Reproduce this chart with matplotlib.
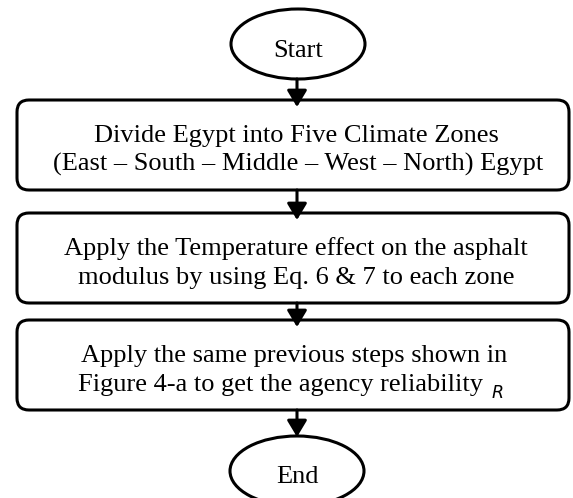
import matplotlib
matplotlib.use("Agg")
import matplotlib.pyplot as plt
from matplotlib.patches import FancyBboxPatch, Ellipse, FancyArrowPatch

W, H = 573, 498
fig = plt.figure(figsize=(W / 100, H / 100), dpi=100)
ax = fig.add_axes([0, 0, 1, 1])
ax.set_xlim(0, W)
ax.set_ylim(H, 0)
ax.axis("off")

terminal_labels = ["Start", "End"]
step_lines = [
    ["Divide Egypt into Five Climate Zones", "(East \u2013 South \u2013 Middle \u2013 West \u2013 North) Egypt"],
    ["Apply the Temperature effect on the asphalt", "modulus by using Eq. 6 & 7 to each zone"],
    ["Apply the same previous steps shown in", "Figure 4-a to get the agency reliability"],
]
symbol_label = "R"

serif = "Liberation Serif"
fs = 19
lw = 2.2

# layout (pixel coordinates)
cx = 297
box_x0, box_x1 = 17, 569
boxes_y = [(100, 190), (213, 303), (320, 410)]
line_off = (41.5, 71.0)
line_cx = [(296, 298), (296, 296), (294, 280)]
ell_w, ell_h = 134, 70
start_c = (298, 44)
end_c = (297, 471)

# terminals
for (ex, ey), lab, tb in zip([start_c, end_c], terminal_labels, [56.5, 483]):
    ax.add_patch(Ellipse((ex, ey), ell_w, ell_h, fill=False, ec="black", lw=lw))
    ax.text(ex, tb, lab, ha="center", va="baseline", family=serif, fontsize=fs)

# process boxes
last = None
for (y0, y1), lines, xs in zip(boxes_y, step_lines, line_cx):
    ax.add_patch(FancyBboxPatch((box_x0, y0), box_x1 - box_x0, y1 - y0,
                                boxstyle="round,pad=0,rounding_size=12",
                                fill=False, ec="black", lw=lw))
    ax.text(xs[0], y0 + line_off[0], lines[0], ha="center", va="baseline",
            family=serif, fontsize=fs)
    last = ax.text(xs[1], y0 + line_off[1], lines[1], ha="center", va="baseline",
                   family=serif, fontsize=fs)

# symbol R placed just after the last line, slightly lowered
fig.canvas.draw()
bb = last.get_window_extent().transformed(ax.transData.inverted())
x_end = max(bb.x0, bb.x1)
ax.text(x_end + 9, boxes_y[2][0] + line_off[1] + 6.5, symbol_label, ha="left",
        va="baseline", family="DejaVu Sans", style="italic", fontsize=12.5)

# arrows
arrows = [(start_c[1] + ell_h / 2, 107), (190, 220), (303, 327), (410, 437)]
for y0, y1 in arrows:
    ax.add_patch(FancyArrowPatch((cx, y0), (cx, y1),
                                 arrowstyle="-|>,head_length=10,head_width=6",
                                 mutation_scale=1, lw=lw, color="black",
                                 shrinkA=0, shrinkB=0))

fig.savefig("out.png", dpi=100)
